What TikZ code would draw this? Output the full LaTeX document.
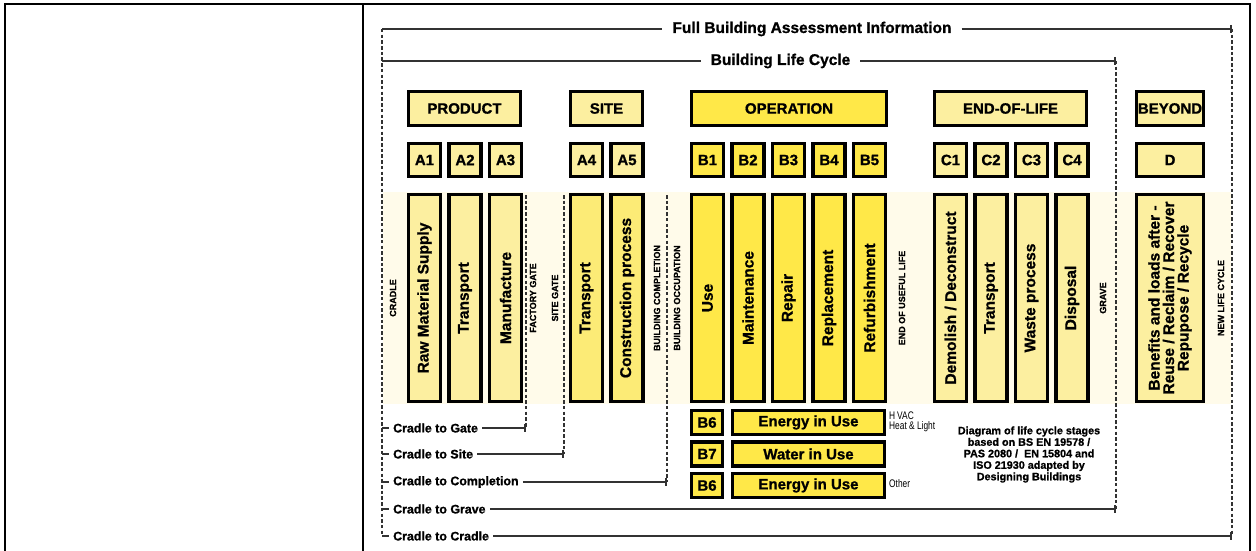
\documentclass[tikz,border=0pt]{standalone}
\usepackage{fontspec}
\setmainfont{Liberation Sans}[BoldFeatures={FakeBold=1.0}]
\newfontfamily\narrowsans{Liberation Sans}[FakeStretch=0.76]
\usetikzlibrary{arrows.meta}

\definecolor{palefill}{RGB}{252,239,160}
\definecolor{sitefill}{RGB}{252,235,118}
\definecolor{opfill}{RGB}{255,232,72}
\definecolor{hazefill}{RGB}{255,251,234}
\definecolor{linegray}{RGB}{50,50,50}

\tikzset{
  tableline/.style={line width=2.2pt, black},
  rule/.style={line width=1.8pt, linegray},
  ruleend/.style={rule, -{Bar[width=8pt]}},
  gateline/.style={line width=2.6pt, linegray, dash pattern=on 3.5pt off 2.2pt},
  stage/.style={draw=black, line width=3.4pt, inner sep=0pt, font=\bfseries\fontsize{15}{18}\selectfont},
  hdr/.style={stage, minimum height=34pt},
  codebox/.style={stage, minimum width=32pt, minimum height=33pt},
  stagebar/.style={stage, rotate=90, minimum width=207pt, minimum height=32pt, font=\bfseries\fontsize{15.5}{14.5}\selectfont},
  userow/.style={stage, minimum height=24pt},
  milestone/.style={rotate=90, inner sep=0pt, font=\bfseries\fontsize{9}{10}\selectfont},
  headline/.style={inner xsep=10pt, inner ysep=0pt, font=\bfseries\fontsize{15.5}{18}\selectfont},
  spanlabel/.style={anchor=west, inner xsep=4pt, inner ysep=0pt, font=\bfseries\fontsize{12.4}{14}\selectfont},
}

\begin{document}
\begin{tikzpicture}[x=1pt,y=-1pt]
  \useasboundingbox (0,0) rectangle (1256,551);
  % table cells
  \draw[tableline] (5,551) -- (5,4) -- (1250,4) -- (1250,551);
  \draw[tableline] (363,4) -- (363,551);
  % pale band behind the stage bars
  \fill[hazefill] (383,192) rectangle (1231,404);

  % boundaries
  \coordinate (fullL) at (382,29);
  \coordinate (fullR) at (1232,29);
  \coordinate (lifeL) at (382,61);
  \coordinate (lifeR) at (1116,61);
  \coordinate (leftB) at (382,536);
  \coordinate (gateT) at (526,195);
  \coordinate (gateB) at (526,428);
  \coordinate (siteT) at (564,195);
  \coordinate (siteB) at (564,454);
  \coordinate (complT) at (667,195);
  \coordinate (complB) at (667,482);
  \coordinate (graveB) at (1116,509);
  \coordinate (cradleB) at (1232,536);
  \coordinate (gateL) at (382,428);
  \coordinate (siteL) at (382,454);
  \coordinate (complL) at (382,482);
  \coordinate (graveL) at (382,509);
  \coordinate (cradleL) at (382,536);

  \draw[gateline] (fullL) -- (leftB);
  \draw[gateline] (fullR) -- (cradleB);
  \draw[gateline] (lifeR) -- (graveB);
  \draw[gateline] (gateT) -- (gateB);
  \draw[gateline] (siteT) -- (siteB);
  \draw[gateline] (complT) -- (complB);

  \node[headline] (full) at (812,29) {Full Building Assessment Information};
  \node[headline] (life) at (780.5,61) {Building Life Cycle};
  \draw[rule] (fullL) -- (full);
  \draw[ruleend] (full) -- (fullR);
  \draw[rule] (lifeL) -- (life);
  \draw[ruleend] (life) -- (lifeR);

  % module groups
  \node[hdr, fill=palefill, minimum width=112pt] (product) at (464.5,108.5) {PRODUCT};
  \node[hdr, fill=palefill, minimum width=72pt] (site) at (606.5,108.5) {SITE};
  \node[hdr, fill=opfill, minimum width=195pt] (operation) at (789,108.5) {OPERATION};
  \node[hdr, fill=palefill, minimum width=152pt] (endoflife) at (1010.5,108.5) {END-OF-LIFE};
  \node[hdr, fill=palefill, minimum width=67pt] (beyond) at (1170,108.5) {BEYOND};

  % module codes
  \node[codebox, fill=palefill] (A1) at (424.5,160) {A1};
  \node[codebox, fill=palefill] (A2) at (465,160) {A2};
  \node[codebox, fill=palefill] (A3) at (505.5,160) {A3};
  \node[codebox, fill=palefill] (A4) at (586.5,160) {A4};
  \node[codebox, fill=palefill] (A5) at (627,160) {A5};
  \node[codebox, fill=opfill] (B1) at (707.5,160) {B1};
  \node[codebox, fill=opfill] (B2) at (748,160) {B2};
  \node[codebox, fill=opfill] (B3) at (788.5,160) {B3};
  \node[codebox, fill=opfill] (B4) at (829,160) {B4};
  \node[codebox, fill=opfill] (B5) at (869.5,160) {B5};
  \node[codebox, fill=palefill] (C1) at (950.5,160) {C1};
  \node[codebox, fill=palefill] (C2) at (991,160) {C2};
  \node[codebox, fill=palefill] (C3) at (1031.5,160) {C3};
  \node[codebox, fill=palefill] (C4) at (1072,160) {C4};
  \node[codebox, fill=palefill, minimum width=67pt] (D) at (1170,160) {D};

  % stages
  \node[stagebar, fill=palefill] (rawsupply) at (424.5,298) {Raw Material Supply};
  \node[stagebar, fill=palefill] (transportA) at (465,298) {Transport};
  \node[stagebar, fill=palefill] (manufacture) at (505.5,298) {Manufacture};
  \node[stagebar, fill=sitefill] (transportS) at (586.5,298) {Transport};
  \node[stagebar, fill=sitefill] (construction) at (627,298) {Construction process};
  \node[stagebar, fill=opfill] (use) at (707.5,298) {Use};
  \node[stagebar, fill=opfill] (maintenance) at (748,298) {Maintenance};
  \node[stagebar, fill=opfill] (repair) at (788.5,298) {Repair};
  \node[stagebar, fill=opfill] (replacement) at (829,298) {Replacement};
  \node[stagebar, fill=opfill] (refurbishment) at (869.5,298) {Refurbishment};
  \node[stagebar, fill=palefill] (demolish) at (950.5,298) {Demolish / Deconstruct};
  \node[stagebar, fill=palefill] (transportC) at (991,298) {Transport};
  \node[stagebar, fill=palefill] (waste) at (1031.5,298) {Waste process};
  \node[stagebar, fill=palefill] (disposal) at (1072,298) {Disposal};
  \node[stagebar, fill=palefill, minimum height=67pt, align=center] (benefits) at (1170,298)
    {Benefits and loads after -\\Reuse / Reclaim / Recover\\Repupose / Recycle};

  % milestones
  \node[milestone] (cradle) at (393,298) {CRADLE};
  \node[milestone] (factorygate) at (533,298) {FACTORY GATE};
  \node[milestone] (sitegate) at (555,298) {SITE GATE};
  \node[milestone] (completion) at (657,298) {BUILDING COMPLETION};
  \node[milestone] (occupation) at (677,298) {BUILDING OCCUPATION};
  \node[milestone] (usefullife) at (902,298) {END OF USEFUL LIFE};
  \node[milestone] (grave) at (1103,298) {GRAVE};
  \node[milestone] (newcycle) at (1221,298) {NEW LIFE CYCLE};

  % operational energy and water
  \node[userow, fill=opfill, minimum width=31pt] (B6a) at (707,422.5) {B6};
  \node[userow, fill=opfill, minimum width=152pt] (energyA) at (808.5,422.5) {Energy in Use};
  \node[userow, fill=opfill, minimum width=31pt] (B7) at (707,454) {B7};
  \node[userow, fill=opfill, minimum width=152pt] (water) at (808.5,454) {Water in Use};
  \node[userow, fill=opfill, minimum width=31pt] (B6b) at (707,485.5) {B6};
  \node[userow, fill=opfill, minimum width=152pt] (energyB) at (808.5,485.5) {Energy in Use};
  \node[anchor=west, align=left, inner sep=0pt, font=\narrowsans\fontsize{11}{10}\selectfont] (hvac) at (889,422) {H\kern2pt VAC\\Heat \& Light};
  \node[anchor=west, inner sep=0pt, font=\narrowsans\fontsize{11}{12}\selectfont] (other) at (889,484) {Other};

  \node[align=center, font=\bfseries\fontsize{10.8}{11.5}\selectfont] (note) at (1029,454.5)
    {Diagram of life cycle stages\\based on BS EN 19578 /\\PAS 2080 /~ EN 15804 and\\ISO 21930 adapted by\\Designing Buildings};

  % scopes
  \node[spanlabel] (ctgate) at (389,428) {Cradle to Gate};
  \node[spanlabel] (ctsite) at (389,454) {Cradle to Site};
  \node[spanlabel] (ctcompl) at (389,482) {Cradle to Completion};
  \node[spanlabel] (ctgrave) at (389,509) {Cradle to Grave};
  \node[spanlabel] (ctcradle) at (389,536) {Cradle to Cradle};
  \draw[rule] (gateL) -- (ctgate.west);
  \draw[rule] (siteL) -- (ctsite.west);
  \draw[rule] (complL) -- (ctcompl.west);
  \draw[rule] (graveL) -- (ctgrave.west);
  \draw[rule] (cradleL) -- (ctcradle.west);
  \draw[ruleend] (ctgate) -- (gateB);
  \draw[ruleend] (ctsite) -- (siteB);
  \draw[ruleend] (ctcompl) -- (complB);
  \draw[ruleend] (ctgrave) -- (graveB);
  \draw[ruleend] (ctcradle) -- (cradleB);
\end{tikzpicture}
\end{document}
